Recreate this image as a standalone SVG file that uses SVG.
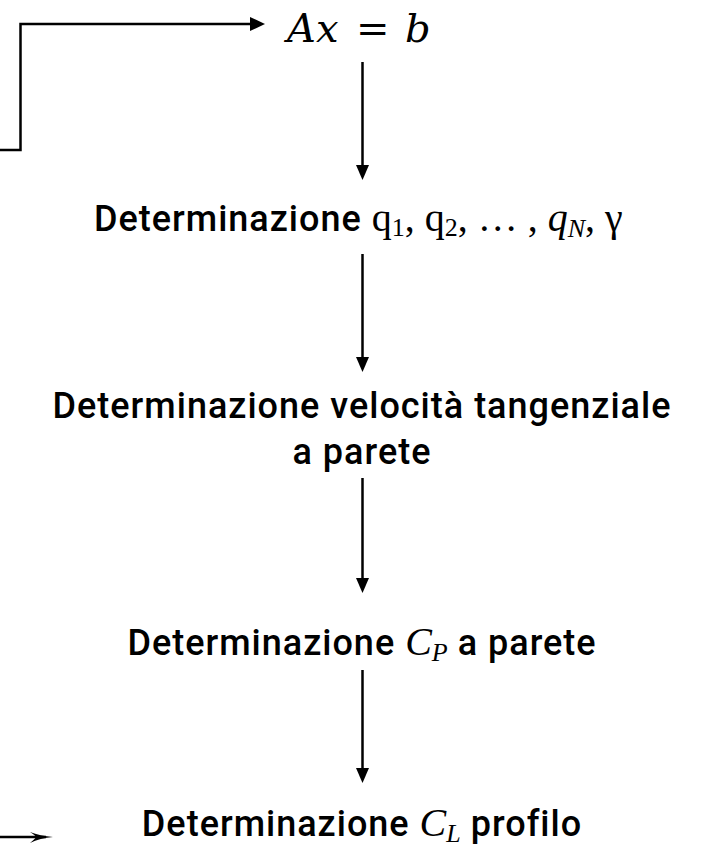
<svg xmlns="http://www.w3.org/2000/svg" width="714" height="848" viewBox="0 0 714 848">
<style>
.lbl{font-family:Roboto,"Liberation Sans",sans-serif;font-weight:500;font-size:36px;letter-spacing:1px;fill:#000}
.m{font-family:"Liberation Serif","DejaVu Serif",serif;font-weight:400;font-style:normal;letter-spacing:0;font-size:40px}
.mi{font-family:"Liberation Serif","DejaVu Serif",serif;font-style:italic;font-weight:400;letter-spacing:0;font-size:40px}
.sub{font-size:26px}
.tex{font-family:"DejaVu Serif","Liberation Serif",serif;font-size:40px;fill:#000}
.edge{fill:none;stroke:#000;stroke-width:2.5}
.head{fill:#000}
</style>
<rect width="714" height="848" fill="#fff"/>
<g id="connectors">
<path class="edge" d="M0,150 H20.5 V24 H250"/>
<path class="head" d="M250,17 L265,24 L250,31 Z"/>
<path class="edge" d="M362.5,62 V166"/>
<path class="head" d="M356,165 L362.5,180 L369,165 Z"/>
<path class="edge" d="M362.5,254 V358"/>
<path class="head" d="M356,357 L362.5,372 L369,357 Z"/>
<path class="edge" d="M362.5,478 V580"/>
<path class="head" d="M356,578 L362.5,593 L369,578 Z"/>
<path class="edge" d="M362.5,670 V770"/>
<path class="head" d="M356,768 L362.5,783 L369,768 Z"/>
<path class="edge" d="M0,837 H46" stroke-width="1.8"/>
<path class="head" d="M30,832 Q40,836 53,837 Q40,838 30,843 Q36,838 36,837 Q36,836 30,832 Z"/>
</g>
<g id="node-axb">
<text class="tex" y="42"><tspan x="287" font-style="italic">A</tspan><tspan x="316" font-style="italic">x</tspan><tspan x="356">=</tspan><tspan x="405" font-style="italic">b</tspan></text>
</g>
<g id="node-q">
<text x="94" y="231" class="lbl">Determinazione <tspan class="m">q</tspan><tspan class="m sub" dy="5">1</tspan><tspan class="m" dy="-5">, q</tspan><tspan class="m sub" dy="5">2</tspan><tspan class="m" dy="-5">, … , </tspan><tspan class="mi">q</tspan><tspan class="mi sub" dy="6">N</tspan><tspan class="m" dy="-6">, γ</tspan></text>
</g>
<g id="node-vel">
<text x="362" y="418" text-anchor="middle" class="lbl">Determinazione velocità tangenziale</text>
<text x="362" y="464" text-anchor="middle" class="lbl">a parete</text>
</g>
<g id="node-cp">
<text x="362" y="655" text-anchor="middle" class="lbl">Determinazione <tspan class="mi">C</tspan><tspan class="mi sub" dy="6">P</tspan><tspan dy="-6"> a parete</tspan></text>
</g>
<g id="node-cl">
<text x="362" y="836" text-anchor="middle" class="lbl">Determinazione <tspan class="mi">C</tspan><tspan class="mi sub" dy="6">L</tspan><tspan dy="-6"> profilo</tspan></text>
</g>
</svg>
